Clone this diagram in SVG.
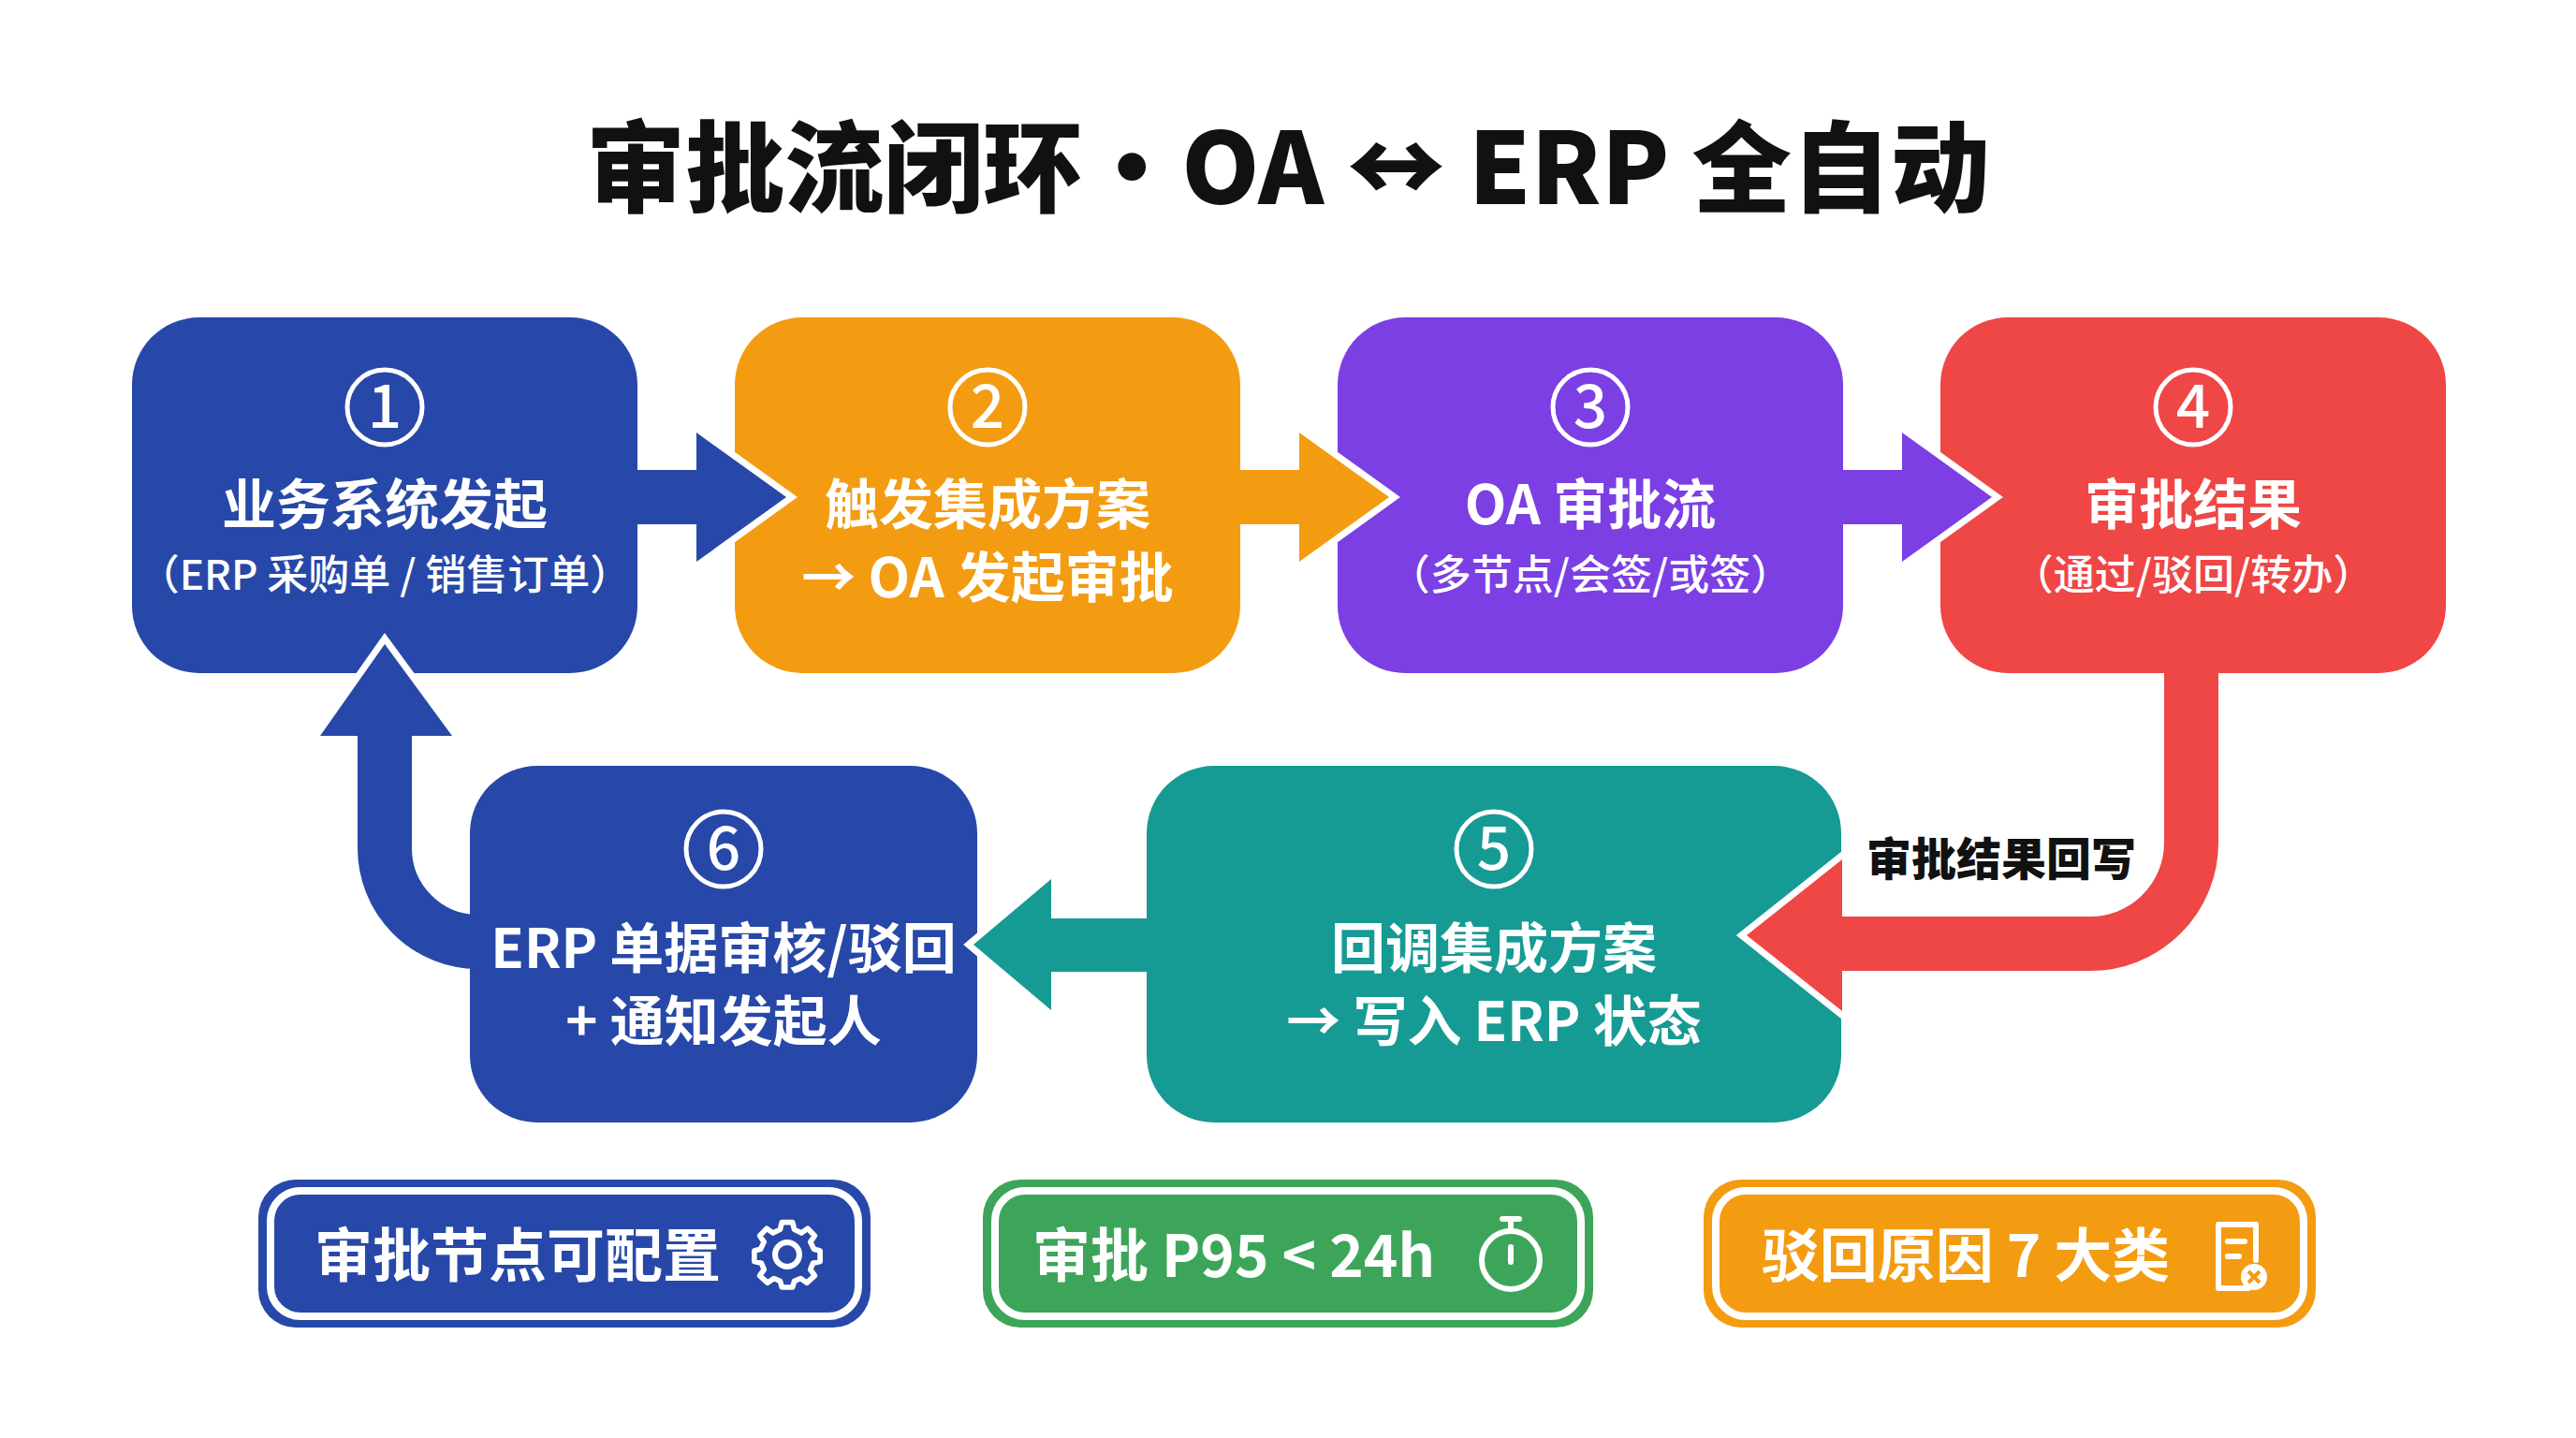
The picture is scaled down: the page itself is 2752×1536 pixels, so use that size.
<svg xmlns="http://www.w3.org/2000/svg" width="2752" height="1536" viewBox="0 0 2752 1536">
<style>
text{font-family:"Noto Sans CJK SC","Noto Sans",sans-serif;font-weight:700;text-anchor:middle;fill:#fff}
.t{font-size:58px}.s{font-size:44px;font-weight:500}.n{font-size:64px;font-weight:500}
.ring{fill:none;stroke:#fff;stroke-width:5}
.ol{fill:none;stroke:#fff;stroke-width:14;stroke-linejoin:miter}
.ic{fill:none;stroke:#fff;stroke-width:6;stroke-linecap:round;stroke-linejoin:round}
.p{font-size:62px}
</style>
<rect width="2752" height="1536" fill="#fff"/>
<text x="1376" y="218" style="font-size:106px;font-weight:900;fill:#111">审批流闭环·OA ↔ ERP 全自动</text>

<g id="n1"><rect x="141" y="339" width="540" height="380" rx="72" fill="#2748A8"/>
<circle cx="411" cy="435" r="40" class="ring"/><text x="411" y="457" class="n">1</text>
<text x="411" y="560" class="t">业务系统发起</text><text x="411" y="630" class="s">（ERP 采购单 / 销售订单）</text></g>
<g id="n2"><rect x="785" y="339" width="540" height="380" rx="72" fill="#F39C12"/>
<circle cx="1055" cy="435" r="40" class="ring"/><text x="1055" y="457" class="n">2</text>
<text x="1055" y="560" class="t">触发集成方案</text><text x="1055" y="638" class="t">→ OA 发起审批</text></g>
<g id="n3"><rect x="1429" y="339" width="540" height="380" rx="72" fill="#7B3FE4"/>
<circle cx="1699" cy="435" r="40" class="ring"/><text x="1699" y="457" class="n">3</text>
<text x="1699" y="560" class="t">OA 审批流</text><text x="1699" y="630" class="s">（多节点/会签/或签）</text></g>
<g id="n4"><rect x="2073" y="339" width="540" height="380" rx="72" fill="#EF4646"/>
<circle cx="2343" cy="435" r="40" class="ring"/><text x="2343" y="457" class="n">4</text>
<text x="2343" y="560" class="t">审批结果</text><text x="2343" y="630" class="s">（通过/驳回/转办）</text></g>
<g id="n5"><rect x="1225" y="818" width="742" height="381" rx="72" fill="#169A94"/>
<circle cx="1596" cy="907" r="40" class="ring"/><text x="1596" y="929" class="n">5</text>
<text x="1596" y="1034" class="t">回调集成方案</text><text x="1596" y="1112" class="t">→ 写入 ERP 状态</text></g>
<g id="n6"><rect x="502" y="818" width="542" height="381" rx="72" fill="#2748A8"/>
<circle cx="773" cy="907" r="40" class="ring"/><text x="773" y="929" class="n">6</text>
<text x="773" y="1034" class="t">ERP 单据审核/驳回</text><text x="773" y="1112" class="t">+ 通知发起人</text></g>

<g id="connectors">
<g fill="#2748A8"><path class="ol" d="M744,504 V462 L840,531 L744,600 V560"/><rect x="670" y="502" width="76" height="58"/><polygon points="744,462 840,531 744,600"/></g>
<g fill="#F39C12"><path class="ol" d="M1388,504 V462 L1484,531 L1388,600 V560"/><rect x="1314" y="502" width="76" height="58"/><polygon points="1388,462 1484,531 1388,600"/></g>
<g fill="#7B3FE4"><path class="ol" d="M2032,504 V462 L2128,531 L2032,600 V560"/><rect x="1958" y="502" width="76" height="58"/><polygon points="2032,462 2128,531 2032,600"/></g>
<g><path class="ol" d="M1968,978 V918 L1866,999 L1968,1080 V1040"/>
<path d="M2341,700 V900 A108,108 0 0 1 2233,1008 H1960" fill="none" stroke="#EF4646" stroke-width="58"/>
<polygon points="1968,918 1866,999 1968,1080" fill="#EF4646"/></g>
<g fill="#169A94"><path class="ol" d="M1123,982 V939 L1040,1009 L1123,1079 V1038"/><rect x="1121" y="981" width="114" height="57"/><polygon points="1123,939 1040,1009 1123,1079" fill="#169A94"/></g>
<g><path class="ol" d="M383,786 H342 L411,688 L483,786 H440"/>
<path d="M512,1006 H511 A100,100 0 0 1 411,906 V780" fill="none" stroke="#2748A8" stroke-width="58"/>
<polygon points="342,786 411,688 483,786" fill="#2748A8"/></g>
<text x="2138" y="935" style="font-size:48px;font-weight:900;fill:#111">审批结果回写</text>
</g>

<g id="p1"><rect x="276" y="1260" width="654" height="158" rx="40" fill="#2748A8"/><rect x="289" y="1272" width="628" height="134" rx="32" fill="none" stroke="#fff" stroke-width="8"/>
<text x="553" y="1364" class="p">审批节点可配置</text>
<g transform="translate(841,1340)"><circle r="13" class="ic"/><path class="ic" d="M-6,-33 H6 L8,-25 L16,-21 L23,-26 L31,-18 L26,-11 L30,-3 L37,-1 V11 L29,13 L26,20 L31,27 L22,35 L15,30 L8,33 L6,40 H-6 L-8,33 L-15,30 L-22,35 L-31,27 L-26,20 L-29,13 L-37,11 V-1 L-30,-3 L-26,-11 L-31,-18 L-23,-26 L-16,-21 L-8,-25 Z" transform="translate(0,-3) scale(0.95)"/></g></g>
<g id="p2"><rect x="1050" y="1260" width="652" height="158" rx="40" fill="#3DA55A"/><rect x="1063" y="1272" width="626" height="134" rx="32" fill="none" stroke="#fff" stroke-width="8"/>
<text x="1318" y="1364" class="p">审批 P95 &lt; 24h</text>
<g transform="translate(1614,1346)"><circle r="31" class="ic"/><path class="ic" d="M0,-31 V-40 M-9,-44 H9 M0,-14 V2"/></g></g>
<g id="p3"><rect x="1820" y="1260" width="654" height="158" rx="40" fill="#F39C12"/><rect x="1833" y="1272" width="628" height="134" rx="32" fill="none" stroke="#fff" stroke-width="8"/>
<text x="2100" y="1364" class="p">驳回原因 7 大类</text>
<g transform="translate(2390,1342)"><path class="ic" d="M12,34 H-20 V-34 H20 V4"/><path class="ic" d="M-10,-16 H8 M-10,0 H2"/><circle cx="18" cy="22" r="14" fill="#fff"/><path d="M12,16 L24,28 M24,16 L12,28" stroke="#F39C12" stroke-width="4"/></g></g>
</svg>
